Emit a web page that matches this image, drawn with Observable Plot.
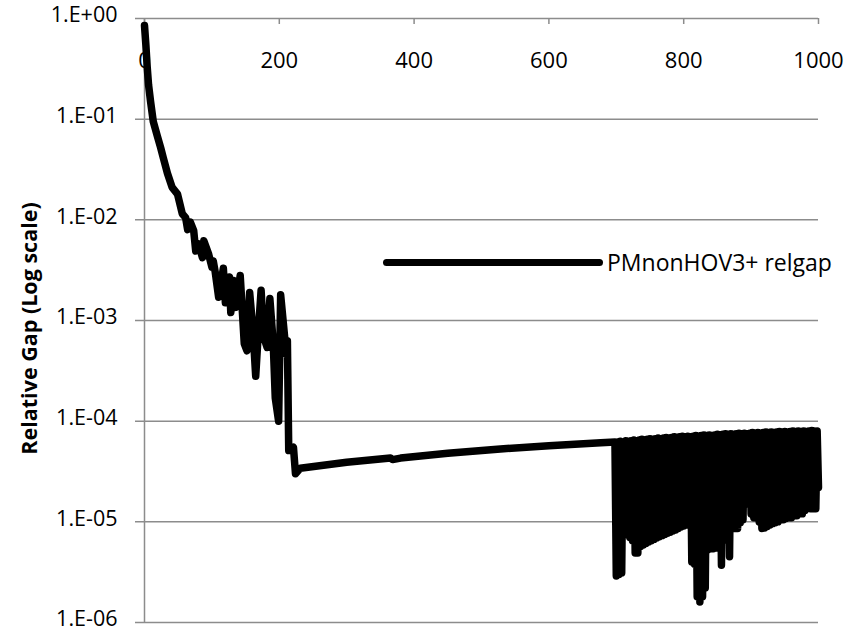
<!DOCTYPE html>
<html>
<head>
<meta charset="utf-8">
<script src="https://cdn.jsdelivr.net/npm/d3@7"></script>
<script src="https://cdn.jsdelivr.net/npm/@observablehq/plot@0.6"></script>
<style>
  html, body { margin: 0; padding: 0; background: #fff; }
  #wrap { position: relative; width: 863px; height: 632px; font-family: "Open Sans", "Liberation Sans", sans-serif; }
  #legend { position: absolute; left: 383px; top: 246px; display: flex; align-items: center; font-size: 23px; color: #000; white-space: nowrap; }
  #legend .sw { width: 220px; height: 7px; background: #000; border-radius: 3.5px; margin-right: 4px; }
</style>
</head>
<body>
<div id="wrap"><div id="legend"><span class="sw"></span><span>PMnonHOV3+ relgap</span></div></div>
<script>
// ---- data ----
const seriesName = "PMnonHOV3+ relgap";
const yTitle = "Relative Gap (Log scale)";
const xTicks = [0, 200, 400, 600, 800, 1000];
const yTicks = [1, 1e-1, 1e-2, 1e-3, 1e-4, 1e-5, 1e-6];

// iterations 0..698 (descent, spiky phase, plateau)
const iterA = [0, 2, 4, 6, 9, 13, 19, 24, 28, 34, 41, 49, 56, 61, 64, 68, 73, 76, 80, 86, 88, 95, 100, 102, 105,
  110, 117, 120, 126, 128, 132, 135, 142, 148, 152, 156, 161, 165, 169, 173, 177, 182, 186, 191, 194, 199,
  202, 208, 209, 212, 214, 221, 224, 231, 300, 365, 368, 372, 380, 450, 528, 600, 677, 698];
const gapA = [0.85, 0.55, 0.33, 0.22, 0.15, 0.095, 0.068, 0.052, 0.041, 0.029, 0.021, 0.018, 0.0115, 0.0105, 0.008,
  0.0095, 0.0078, 0.0049, 0.0058, 0.0042, 0.0062, 0.0046, 0.0034, 0.0039, 0.0030,
  0.0017, 0.0033, 0.0015, 0.0027, 0.0012, 0.0025, 0.00135, 0.0028, 0.00059, 0.0005, 0.0019, 0.00079, 0.00028,
  0.00079, 0.0020, 0.00068, 0.00054, 0.00165, 0.00059, 0.00017, 0.0001,
  0.0018, 0.00068, 0.00047, 0.00063, 0.000051, 0.000055, 0.000030, 0.000034, 0.000039, 0.000043, 0.0000415,
  0.000042, 0.000043, 0.000048, 0.000053, 0.000057, 0.000061, 0.000062];

// oscillating phase: lows at iterations 700,704,...,996 ; highs at 702,706,...,998
const oscLowIter = d3.range(700, 1000, 4);
const oscLow = [2.9e-6, 3.0e-6, 3.1e-6, 7.5e-6, 7.5e-6, 7.0e-6, 6.5e-6, 4.9e-6, 4.9e-6, 5.7e-6,
  5.9e-6, 6.1e-6, 6.3e-6, 6.5e-6, 6.7e-6, 6.9e-6, 7.1e-6, 7.3e-6, 7.5e-6, 7.7e-6,
  7.9e-6, 8.1e-6, 8.3e-6, 8.6e-6, 8.9e-6, 9.1e-6, 9.3e-6, 9.4e-6, 4.0e-6, 3.8e-6,
  1.8e-6, 1.6e-6, 1.8e-6, 2.2e-6, 5.3e-6, 5.4e-6, 5.4e-6, 5.5e-6, 5.6e-6, 3.7e-6,
  6.6e-6, 6.7e-6, 4.5e-6, 8.9e-6, 8.6e-6, 8.6e-6, 9.8e-6, 1.05e-5, 1.6e-5, 1.5e-5,
  1.2e-5, 1.1e-5, 1.1e-5, 1.0e-5, 8.6e-6, 8.7e-6, 9.0e-6, 9.3e-6, 9.6e-6, 9.8e-6,
  1.0e-5, 1.05e-5, 1.05e-5, 1.08e-5, 1.1e-5, 1.1e-5, 1.15e-5, 1.15e-5, 1.2e-5, 1.2e-5,
  1.3e-5, 1.4e-5, 1.35e-5, 1.35e-5, 1.35e-5];
const oscHighIter = d3.range(702, 1000, 4);
const oscHigh = [6.2e-5, 6.3e-5, 6.2e-5, 6.4e-5, 6.3e-5, 6.4e-5, 6.5e-5, 6.4e-5, 6.5e-5, 6.6e-5,
  6.5e-5, 6.6e-5, 6.7e-5, 6.6e-5, 6.7e-5, 6.8e-5, 6.7e-5, 6.8e-5, 6.9e-5, 6.8e-5,
  6.9e-5, 7.0e-5, 6.9e-5, 7.0e-5, 7.1e-5, 7.0e-5, 7.1e-5, 7.0e-5, 7.1e-5, 7.2e-5,
  7.1e-5, 7.2e-5, 7.3e-5, 7.2e-5, 7.3e-5, 7.2e-5, 7.3e-5, 7.4e-5, 7.3e-5, 7.4e-5,
  7.5e-5, 7.4e-5, 7.5e-5, 7.4e-5, 7.5e-5, 7.6e-5, 7.5e-5, 7.6e-5, 7.5e-5, 7.6e-5,
  7.7e-5, 7.6e-5, 7.7e-5, 7.6e-5, 7.7e-5, 7.8e-5, 7.7e-5, 7.8e-5, 7.7e-5, 7.8e-5,
  7.9e-5, 7.8e-5, 7.9e-5, 7.8e-5, 7.9e-5, 8.0e-5, 7.9e-5, 8.0e-5, 7.9e-5, 8.0e-5,
  7.9e-5, 8.0e-5, 8.1e-5, 8.0e-5, 8.0e-5];
const lastIter = 1000;
const lastGap = 2.2e-5;

// ---- build table ----
const data = [];
iterA.forEach((it, i) => data.push({iter: it, gap: gapA[i]}));
oscLowIter.forEach((it, i) => {
  if (oscLow[i] !== undefined) data.push({iter: it, gap: oscLow[i]});
  if (oscHigh[i] !== undefined) data.push({iter: oscHighIter[i], gap: oscHigh[i]});
});
data.push({iter: lastIter, gap: lastGap});

const fmtY = d => {
  const e = Math.round(Math.log10(d));
  return "1.E" + (e < 0 ? "-" : "+") + String(Math.abs(e)).padStart(2, "0");
};

const gray = "#8c8c8c";
const chart = Plot.plot({
  width: 863,
  height: 632,
  marginTop: 18,
  marginBottom: 10,
  marginLeft: 144,
  marginRight: 45,
  style: {fontFamily: '"Open Sans", "Liberation Sans", sans-serif', fontSize: "22px", background: "#fff", color: "#000"},
  x: {domain: [0, 1000], axis: null},
  y: {type: "log", domain: [1e-6, 1], axis: null},
  marks: [
    Plot.ruleY(yTicks, {y: d => d, stroke: gray, strokeWidth: 1.5, insetLeft: -9}),
    Plot.ruleX([0], {stroke: gray, strokeWidth: 1.5}),
    Plot.ruleX(xTicks, {x: d => d, y1: 1, y2: 1, insetBottom: -6, stroke: gray, strokeWidth: 1.5}),
    Plot.axisY({ticks: yTicks, tickSize: 0, tickPadding: 27, tickFormat: fmtY, label: null, fontSize: 21.5, dy: -3}),
    Plot.text(xTicks, {x: d => d, y: 1, dy: 42, text: d => String(d), fontSize: 22, textAnchor: "middle", lineAnchor: "middle"}),
    Plot.text([yTitle], {frameAnchor: "left", dx: -114, dy: 8, rotate: -90, fontWeight: "bold", fontSize: 21.5, textAnchor: "middle", lineAnchor: "middle"}),
    Plot.line(data, {x: "iter", y: "gap", stroke: "#000", strokeWidth: 7.5, strokeLinejoin: "round", strokeLinecap: "round"})
  ]
});
document.getElementById("wrap").insertBefore(chart, document.getElementById("legend"));
</script>
</body>
</html>
